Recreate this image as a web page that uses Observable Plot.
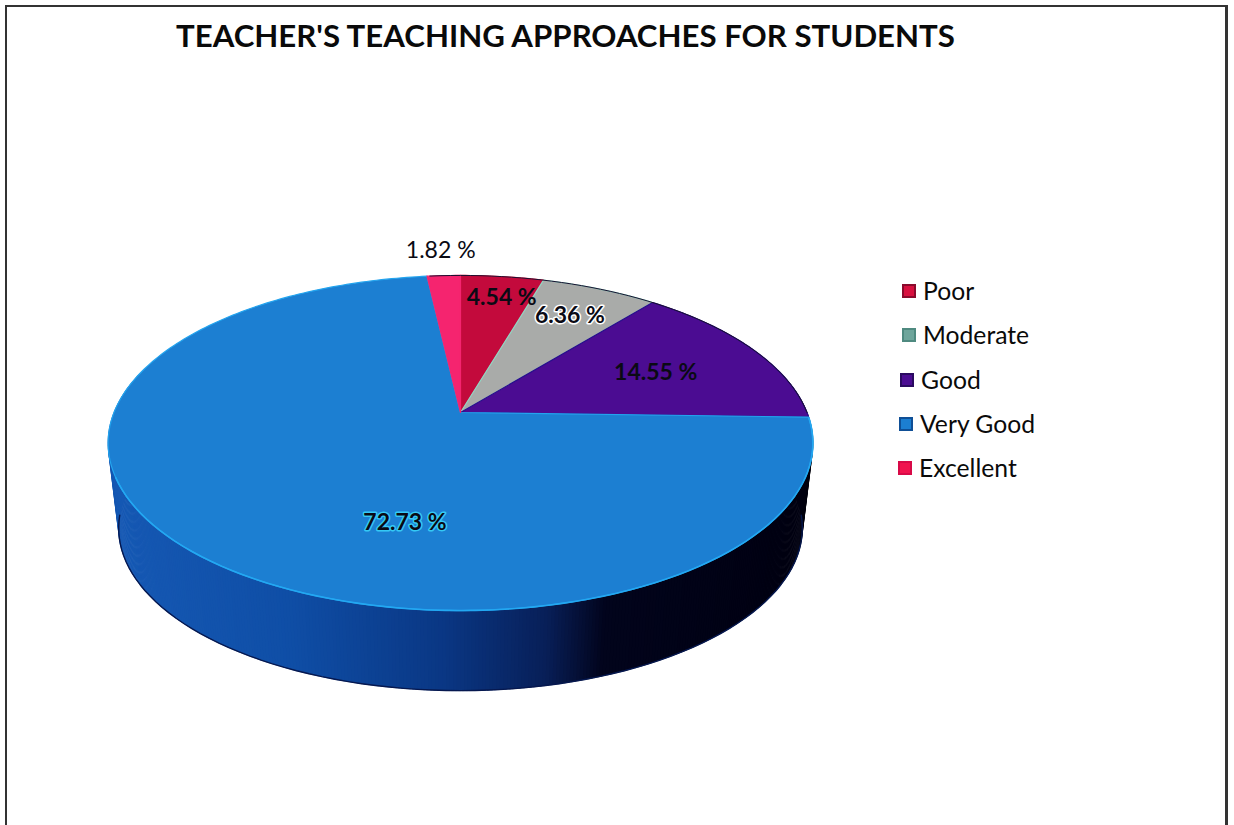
<!DOCTYPE html>
<html>
<head>
<meta charset="utf-8">
<script src="https://cdn.jsdelivr.net/npm/d3@7"></script>
<script src="https://cdn.jsdelivr.net/npm/@observablehq/plot@0.6"></script>
<style>
  html, body { margin: 0; padding: 0; background: #fff; overflow: hidden; }
  #page { position: relative; width: 1234px; height: 825px; font-family: Lato, "Open Sans", sans-serif; color: #0a0a0a; }
  #frame { position: absolute; left: 5px; top: 5px; width: 1218px; height: 830px; border: 2px solid #333; border-right-width: 3px; box-sizing: content-box; }
  #title { position: absolute; left: 176px; top: 13px; font-size: 31.2px; font-weight: 700; white-space: nowrap; line-height: 44px; }
  #legend { position: absolute; left: 0; top: 0; }
  .item { position: absolute; display: flex; align-items: center; font-size: 24.7px; line-height: 30px; white-space: nowrap; }
  .sw { display: inline-block; width: 10px; height: 10px; margin-right: 7px; border: 2px solid; }
  svg { position: absolute; left: 0; top: 0; }
</style>
</head>
<body>
<div id="page">
  <div id="frame"></div>
  <div id="title"></div>
  <div id="chart"></div>
  <div id="legend"></div>
</div>
<script>
const titleText = "TEACHER'S TEACHING APPROACHES FOR STUDENTS";
const categories = ["Poor", "Moderate", "Good", "Very Good", "Excellent"];
const values = [4.54, 6.36, 14.55, 72.73, 1.82];
const fills = ["#c30a3c", "#a9aba9", "#4b0c92", "#1c7fd2", "#f5246f"];
const edges = ["#e0103c", "#8fd8c4", "#2a0c8c", "#23a4ee", "#f5246f"];
const swatchEdges = ["#8a0a2c", "#4f8a80", "#2a0a60", "#0f4f96", "#d80a48"];
const swatchFills = ["#d8103f", "#6fa69c", "#4b0c92", "#1c7fd2", "#f0144f"];

// layout of the drawing, kept apart from the data
const persp = 0.182, baseScale = 0.97, baseDrop = 0.531;
const labelRho = [0.82, 0.76, 0.65, 0.5, 1.22];
const labelNudge = [[6, 0], [0, 0], [0, 2], [70, 46], [0, 0]];
const labelHalo = [null, "#ffffff", null, "#35c8f5", null];
const labelWeight = [700, 700, 700, 700, 400];
const legendPos = [[902, 291], [902, 335], [900, 380], [899, 424], [898, 468]];
const wallStops = [[-1.02, "#1659b4"], [-0.5, "#0f4ea6"], [-0.05, "#0a3784"], [0.25, "#081f58"], [0.42, "#02041c"], [1.02, "#000010"]];

function project(deg, rho = 1, scale = 1, drop = 0) {
  const t = deg * Math.PI / 180, u = rho * Math.sin(t), v = rho * Math.cos(t);
  const s = 1 / (1 + persp * v);
  return {x: u * s * scale, y: v * s * scale - drop};
}

let acc = 0;
const slices = categories.map((name, i) => {
  const a0 = acc * 3.6; acc += values[i]; const a1 = acc * 3.6;
  const pts = [project(0, 0)];
  const n = Math.max(2, Math.ceil(a1 - a0));
  for (let k = 0; k <= n; k++) pts.push(project(a0 + (a1 - a0) * k / n));
  pts.push(project(0, 0));
  return {name, i, a0, a1, mid: (a0 + a1) / 2, pts};
});

const wallColor = d3.scaleLinear().domain(wallStops.map(d => d[0])).range(wallStops.map(d => d[1])).interpolate(d3.interpolateRgb);
const wall = [];
for (let a = 76; a < 284; a += 0.5) {
  const col = wallColor(project(a + 0.25).x);
  [project(a), project(a + 0.8), project(a + 0.8, 1, baseScale, baseDrop), project(a, 1, baseScale, baseDrop)]
    .forEach(p => wall.push({...p, seg: a, col}));
}

const baseRim = d3.range(96, 266, 2).map(a => project(a, 1, baseScale, baseDrop));
const frontRim = d3.range(92, 250, 2).map(a => project(a));
const backRim = d3.range(-6, 92, 2).map(a => project(a));

const marks = [
  Plot.line(wall, {x: "x", y: "y", z: "seg", fill: "col", stroke: "col", strokeWidth: 0.4, curve: "linear"}),
  Plot.line(baseRim, {x: "x", y: "y", stroke: "#06184f", strokeWidth: 1.4, curve: "linear"}),
  ...slices.map(s => Plot.line(s.pts, {x: "x", y: "y", fill: fills[s.i], stroke: edges[s.i], strokeWidth: 1.2, curve: "linear"})),
  Plot.line(frontRim, {x: "x", y: "y", stroke: "#23a8f2", strokeWidth: 1.6, curve: "linear"}),
  Plot.line(backRim, {x: "x", y: "y", stroke: "#1a1030", strokeWidth: 1, curve: "linear"}),
  ...slices.map(s => {
    const p = project(s.mid, labelRho[s.i]);
    const halo = labelHalo[s.i];
    return Plot.text([{...p, t: values[s.i].toFixed(2) + " %"}], {
      x: "x", y: "y", text: "t", textAnchor: "middle",
      dx: labelNudge[s.i][0], dy: labelNudge[s.i][1],
      fontSize: 23, fontWeight: labelWeight[s.i], fontFamily: "Lato, 'Open Sans', sans-serif",
      fill: "#0a0a14",
      stroke: halo || "none", strokeWidth: halo ? 3 : 0, paintOrder: "stroke"
    });
  })
];

const chart = Plot.plot({
  width: 1234, height: 825,
  marginTop: 0, marginRight: 0, marginBottom: 0, marginLeft: 0,
  style: {background: "transparent", overflow: "visible"},
  x: {domain: [-1, 1], range: [113.5, 806.5], axis: null},
  y: {domain: [-1, 1], range: [574, 250], axis: null},
  marks
});
document.getElementById("chart").appendChild(chart);

document.getElementById("title").textContent = titleText;
const legend = document.getElementById("legend");
categories.forEach((name, i) => {
  const row = document.createElement("div");
  row.className = "item";
  row.style.left = legendPos[i][0] + "px";
  row.style.top = (legendPos[i][1] - 15) + "px";
  const sw = document.createElement("span");
  sw.className = "sw";
  sw.style.background = swatchFills[i];
  sw.style.borderColor = swatchEdges[i];
  row.appendChild(sw);
  row.appendChild(document.createTextNode(name));
  legend.appendChild(row);
});
</script>
</body>
</html>
